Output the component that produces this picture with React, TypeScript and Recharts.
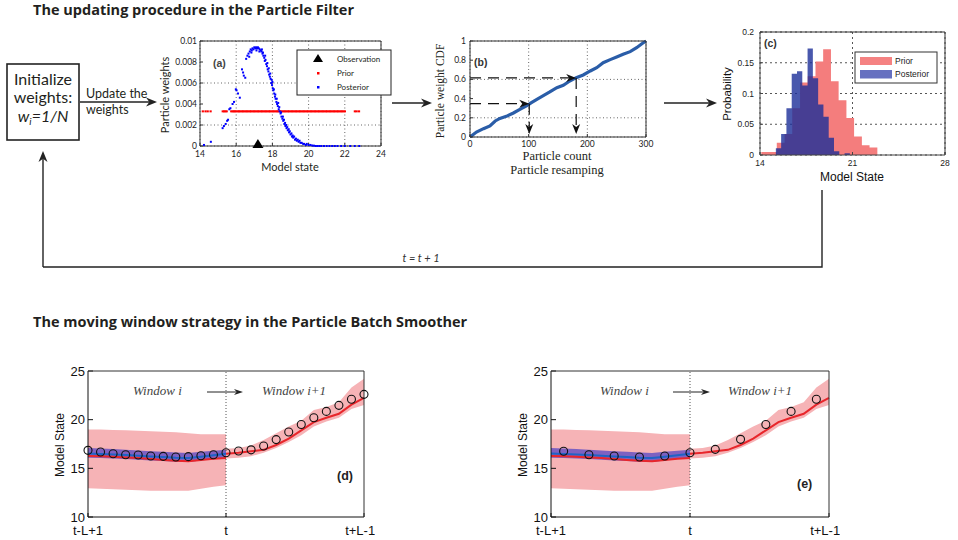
import {
  ScatterChart,
  Scatter,
  LineChart,
  Line,
  ComposedChart,
  Area,
  XAxis,
  YAxis,
  CartesianGrid,
  ReferenceLine,
} from "recharts";

// ---------- fonts ----------
const HUMAN = "Lato, 'Open Sans', sans-serif";
const TITLE = "'Open Sans', Lato, sans-serif";
const ARIAL = "'Liberation Sans', Arial, sans-serif";
const SERIF = "'Liberation Serif', 'Times New Roman', serif";

// ---------- (a) particle weights ----------
const WEIGHT_X_TICKS = [14, 16, 18, 20, 22, 24];
const WEIGHT_Y_TICKS = [0, 0.002, 0.004, 0.006, 0.008, 0.01];
const OBSERVATION = 17.2;
const PRIOR_WEIGHT = 0.0033; // every prior particle has w = 1/N
const PRIOR_X = [
  14.15, 14.3, 14.42, 14.58, 15.25, 15.33, 15.4, 15.47, 15.72, 15.8, 15.86,
  15.93, 16.0, 16.08, 16.15, 16.22, 16.3, 16.37, 16.45, 16.52, 16.6, 16.67,
  16.75, 16.82, 16.9, 16.97, 17.05, 17.12, 17.2, 17.27, 17.35, 17.42, 17.5,
  17.57, 17.65, 17.72, 17.8, 17.87, 17.95, 18.02, 18.1, 18.17, 18.25, 18.32,
  18.4, 18.47, 18.55, 18.62, 18.7, 18.77, 18.85, 18.92, 19.0, 19.07, 19.15,
  19.22, 19.3, 19.37, 19.45, 19.52, 19.6, 19.67, 19.75, 19.82, 19.9, 19.97,
  20.05, 20.12, 20.2, 20.27, 20.35, 20.42, 20.5, 20.57, 20.65, 20.72, 20.8,
  20.87, 20.95, 21.02, 21.1, 21.17, 21.25, 21.32, 21.4, 21.47, 21.55, 21.62,
  21.7, 21.77, 21.85, 21.92, 22.0, 22.55, 22.65, 22.78,
];
const POSTERIOR_PARTICLES: [number, number][] = [
  [14.22, 0.0001], [14.6, 0.0004], [15.25, 0.0017], [15.32, 0.0019],
  [15.42, 0.0021], [15.5, 0.0024], [15.55, 0.0025], [15.62, 0.0035],
  [15.68, 0.0036], [15.8, 0.004], [15.88, 0.0042], [15.98, 0.0054],
  [16.02, 0.0053], [16.1, 0.005], [16.2, 0.0046], [16.32, 0.0073],
  [16.38, 0.007], [16.42, 0.0067], [16.5, 0.0065], [16.55, 0.0083],
  [16.62, 0.0086], [16.68, 0.0088], [16.72, 0.0085], [16.75, 0.009],
  [16.8, 0.0092], [16.84, 0.0089], [16.86, 0.0091], [16.9, 0.0093],
  [16.95, 0.0092], [17.0, 0.0094], [17.05, 0.0093], [17.1, 0.0094],
  [17.12, 0.0091], [17.15, 0.0093], [17.2, 0.0094], [17.25, 0.0093],
  [17.28, 0.009], [17.3, 0.0092], [17.36, 0.0091], [17.4, 0.009],
  [17.42, 0.0092], [17.45, 0.0088], [17.48, 0.0089], [17.5, 0.0086],
  [17.55, 0.0084], [17.58, 0.0081], [17.6, 0.0086], [17.62, 0.0082],
  [17.66, 0.0078], [17.7, 0.0076], [17.72, 0.0079], [17.74, 0.0073],
  [17.78, 0.0071], [17.8, 0.0074], [17.82, 0.0068], [17.86, 0.0066],
  [17.88, 0.0069], [17.9, 0.0064], [17.94, 0.006], [17.96, 0.0063],
  [17.98, 0.0058], [18.0, 0.0061], [18.02, 0.0055], [18.05, 0.0053],
  [18.08, 0.0054], [18.1, 0.005], [18.14, 0.0047], [18.16, 0.0049],
  [18.18, 0.0045], [18.22, 0.0042], [18.24, 0.0045], [18.26, 0.004],
  [18.3, 0.0038], [18.32, 0.0041], [18.35, 0.0035], [18.38, 0.0037],
  [18.4, 0.0033], [18.45, 0.0031], [18.48, 0.0032], [18.5, 0.0028],
  [18.55, 0.0026], [18.58, 0.0028], [18.6, 0.0024], [18.64, 0.0025],
  [18.66, 0.0021], [18.7, 0.0022], [18.72, 0.0019], [18.76, 0.002],
  [18.78, 0.0017], [18.82, 0.0018], [18.85, 0.0015], [18.9, 0.0016],
  [18.92, 0.0013], [18.96, 0.0014], [19.0, 0.0011], [19.05, 0.0012],
  [19.08, 0.0009], [19.12, 0.001], [19.15, 0.0008], [19.2, 0.0009],
  [19.25, 0.0006], [19.3, 0.0007], [19.35, 0.0005], [19.4, 0.0006],
  [19.45, 0.0004], [19.5, 0.0005], [19.55, 0.0003], [19.62, 0.0003],
  [19.7, 0.0002], [19.75, 0.0002], [19.85, 0.0001], [19.9, 0.0002],
  [20.0, 0.0001], [20.1, 0.0001], [20.2, 0.00005], [20.3, 0.00003],
  [20.4, 0], [20.5, 0], [20.6, 0], [20.7, 0], [20.85, 0], [21.0, 0],
  [21.15, 0], [21.3, 0], [21.45, 0], [21.6, 0], [21.8, 0], [22.0, 0],
  [22.3, 0], [22.55, 0], [22.8, 0],
];

// ---------- (b) resampling CDF ----------
const CDF_X_TICKS = [0, 100, 200, 300];
const CDF_Y_TICKS = [0, 0.2, 0.4, 0.6, 0.8, 1];
const PARTICLE_COUNT = [
  0, 11, 23, 34, 43, 51, 62, 74, 85, 97, 104, 114, 125, 136, 148, 159, 170,
  181, 193, 205, 216, 227, 239, 250, 261, 273, 284, 293, 300,
];
const WEIGHT_CDF = [
  0, 0.052, 0.087, 0.115, 0.167, 0.194, 0.215, 0.25, 0.288, 0.326, 0.355,
  0.392, 0.43, 0.469, 0.514, 0.538, 0.583, 0.618, 0.646, 0.688, 0.722, 0.774,
  0.806, 0.833, 0.861, 0.889, 0.93, 0.972, 1.0,
];
const RESAMPLE_COUNT = [101, 181];
const RESAMPLE_CDF = [0.347, 0.615];
const ARROW_FLOOR = 0.03;

// ---------- (c) histograms ----------
const HIST_X_TICKS = [14, 21, 28];
const HIST_Y_TICKS = [0, 0.05, 0.1, 0.15, 0.2];
const PRIOR_EDGES = [
  14.1, 14.69, 15.27, 15.86, 16.44, 17.03, 17.61, 18.2, 18.78, 19.37, 19.95,
  20.54, 21.12, 21.71, 22.29, 22.88,
];
const PRIOR_PROB = [
  0.005, 0.005, 0.02, 0.034, 0.076, 0.118, 0.128, 0.152, 0.172, 0.12, 0.089,
  0.06, 0.03, 0.016, 0.012,
];
const POST_EDGES = [
  15.2, 15.6, 16.0, 16.4, 16.8, 17.2, 17.6, 18.0, 18.4, 18.8, 19.2, 19.6,
  20.0, 20.4, 20.8,
];
const POST_PROB = [
  0.011, 0.034, 0.076, 0.132, 0.136, 0.113, 0.173, 0.125, 0.082, 0.062,
  0.028, 0.006, 0, 0.003,
];

// ---------- (d)/(e) moving window ----------
const STEPS = [0, 1, 2, 3, 4, 5, 6, 7, 8, 9, 10, 11, 12, 13, 14, 15, 16, 17, 18, 19, 20, 21, 22];
const SPLIT = 11;
const TIME_TICKS = [0, 11, 22];
const TIME_LABELS = ["t-L+1", "t", "t+L-1"];
const STATE_TICKS = [10, 15, 20, 25];
// window i (steps 0..11)
const PF_LO_L = [12.95, 12.9, 12.85, 12.8, 12.75, 12.7, 12.7, 12.7, 12.7, 12.9, 13.1, 13.25];
const PF_HI_L = [19.0, 19.0, 18.95, 18.9, 18.85, 18.8, 18.75, 18.7, 18.6, 18.5, 18.5, 18.5];
const PF_MEAN_L = [16.27, 16.24, 16.2, 16.12, 16.05, 15.95, 15.85, 15.77, 15.72, 15.85, 15.98, 16.06];
const PBS_LO = [16.1, 16.05, 16.0, 15.95, 15.88, 15.8, 15.75, 15.68, 15.65, 15.8, 15.95, 16.12];
const PBS_HI = [17.1, 17.05, 16.98, 16.9, 16.82, 16.75, 16.7, 16.62, 16.58, 16.7, 16.8, 16.92];
const PBS_MEAN = [16.52, 16.48, 16.42, 16.36, 16.3, 16.22, 16.16, 16.08, 16.06, 16.2, 16.35, 16.5];
// window i+1 (steps 11..22)
const PF_LO_R = [16.0, 16.1, 16.25, 16.6, 17.1, 17.7, 18.4, 19.3, 19.8, 20.2, 21.1, 21.5];
const PF_HI_R = [17.0, 17.1, 17.35, 17.9, 18.6, 19.3, 19.9, 21.0, 21.3, 21.8, 23.3, 24.2];
const PF_MEAN_R = [16.5, 16.6, 16.75, 16.9, 17.4, 18.05, 18.9, 19.75, 20.2, 20.6, 21.55, 22.25];
// observations
const OBS_D = [
  16.85, 16.68, 16.5, 16.4, 16.37, 16.27, 16.23, 16.16, 16.2, 16.3, 16.4, 16.6,
  16.78, 16.9, 17.3, 17.95, 18.73, 19.5, 20.2, 20.85, 21.47, 22.1, 22.6,
];
const OBS_E_STEPS = [1, 3, 5, 7, 9, 11, 13, 15, 17, 19, 21];
const OBS_E = [16.75, 16.4, 16.27, 16.16, 16.27, 16.6, 16.95, 17.98, 19.5, 20.85, 22.1];

// ---------- helpers ----------
function Arrow({ x1, y1, x2, y2, w = 1.4, head = 11, half = 4.5, color = "#222" }: any) {
  const a = Math.atan2(y2 - y1, x2 - x1);
  const c = Math.cos(a);
  const s = Math.sin(a);
  const bx = x2 - head * c;
  const by = y2 - head * s;
  const ix = x2 - head * 0.7 * c;
  const iy = y2 - head * 0.7 * s;
  return (
    <g>
      <line x1={x1} y1={y1} x2={ix} y2={iy} stroke={color} strokeWidth={w} />
      <path
        d={`M${x2},${y2}L${bx - half * s},${by + half * c}L${ix},${iy}L${bx + half * s},${by - half * c}Z`}
        fill={color}
      />
    </g>
  );
}

function DashedArrow(props: any) {
  const { x1, y1, x2, y2 } = props;
  if ([x1, y1, x2, y2].some((v) => v == null || isNaN(v))) return null;
  const a = Math.atan2(y2 - y1, x2 - x1);
  const c = Math.cos(a);
  const s = Math.sin(a);
  const head = 10;
  const half = 4;
  const bx = x2 - head * c;
  const by = y2 - head * s;
  const ix = x2 - head * 0.7 * c;
  const iy = y2 - head * 0.7 * s;
  return (
    <g>
      <line x1={x1} y1={y1} x2={ix} y2={iy} stroke="#111" strokeWidth={1.2} strokeDasharray="11 7" />
      <path
        d={`M${x2},${y2}L${bx - half * s},${by + half * c}L${ix},${iy}L${bx + half * s},${by - half * c}Z`}
        fill="#111"
      />
    </g>
  );
}

function frameAxes(domainX: number[], ticksX: number[], domainY: number[], ticksY: number[], size: number) {
  return [
    <XAxis
      key="top"
      xAxisId="top"
      orientation="top"
      type="number"
      domain={domainX}
      ticks={ticksX}
      allowDataOverflow
      height={1}
      tick={false}
      tickSize={-size}
      stroke="#333"
    />,
    <YAxis
      key="right"
      yAxisId="right"
      orientation="right"
      type="number"
      domain={domainY}
      ticks={ticksY}
      allowDataOverflow
      width={1}
      tick={false}
      tickSize={-size}
      stroke="#333"
    />,
  ];
}

const HUMAN_TICK = { fontFamily: HUMAN, fontSize: 8.5, fill: "#222" };
const ARIAL_TICK = { fontFamily: ARIAL, fontSize: 8.5, fill: "#222" };
const BIG_TICK = { fontFamily: ARIAL, fontSize: 13, fill: "#111" };

// ---------- panels ----------
function PanelA() {
  const prior = PRIOR_X.map((x) => ({ x, y: PRIOR_WEIGHT }));
  const posterior = POSTERIOR_PARTICLES.map(([x, y]) => ({ x, y }));
  const obs = [{ x: OBSERVATION, y: 0 }];
  return (
    <div style={{ position: "absolute", left: 150, top: 30 }}>
      <ScatterChart width={250} height={150} margin={{ top: 10, right: 18, bottom: 14, left: 10 }}>
        <CartesianGrid stroke="#666" strokeDasharray="1 2.5" />
        <XAxis
          type="number"
          dataKey="x"
          domain={[14, 24]}
          ticks={WEIGHT_X_TICKS}
          height={20}
          tickSize={-3}
          tickMargin={8}
          tick={HUMAN_TICK}
          stroke="#333"
        />
        <YAxis
          type="number"
          dataKey="y"
          domain={[0, 0.01]}
          ticks={WEIGHT_Y_TICKS}
          width={40}
          tickSize={-3}
          tickMargin={6}
          tick={HUMAN_TICK}
          stroke="#333"
        />
        {frameAxes([14, 24], WEIGHT_X_TICKS, [0, 0.01], WEIGHT_Y_TICKS, 3)}
        <Scatter
          data={prior}
          isAnimationActive={false}
          shape={(p: any) => <rect x={p.cx - 1} y={p.cy - 1} width={2.2} height={2} fill="#ff0000" />}
        />
        <Scatter
          data={posterior}
          isAnimationActive={false}
          shape={(p: any) => <rect x={p.cx - 1} y={p.cy - 1} width={2} height={2} fill="#0000ff" />}
        />
        <Scatter
          data={obs}
          isAnimationActive={false}
          shape={(p: any) => (
            <path d={`M${p.cx},${p.cy - 7}L${p.cx + 5.5},${p.cy + 2}L${p.cx - 5.5},${p.cy + 2}Z`} fill="#000" />
          )}
        />
      </ScatterChart>
    </div>
  );
}

function PanelB() {
  const rows = PARTICLE_COUNT.map((n, i) => ({ n, cdf: WEIGHT_CDF[i] }));
  return (
    <div style={{ position: "absolute", left: 420, top: 30 }}>
      <LineChart width={240} height={130} data={rows} margin={{ top: 10, right: 13, bottom: 8, left: 15 }}>
        <CartesianGrid stroke="#666" strokeDasharray="1 2.5" />
        <XAxis
          type="number"
          dataKey="n"
          domain={[0, 300]}
          ticks={CDF_X_TICKS}
          height={15}
          tickSize={-3}
          tickMargin={7}
          tick={HUMAN_TICK}
          stroke="#333"
        />
        <YAxis
          type="number"
          domain={[0, 1]}
          ticks={CDF_Y_TICKS}
          width={35}
          tickSize={-3}
          tickMargin={7}
          tick={HUMAN_TICK}
          stroke="#333"
        />
        {frameAxes([0, 300], CDF_X_TICKS, [0, 1], CDF_Y_TICKS, 3)}
        <Line
          type="linear"
          dataKey="cdf"
          stroke="#2a5da8"
          strokeWidth={3.2}
          dot={false}
          isAnimationActive={false}
        />
        {RESAMPLE_COUNT.map((n, i) => (
          <ReferenceLine
            key={`h${i}`}
            segment={[
              { x: 0, y: RESAMPLE_CDF[i] },
              { x: n, y: RESAMPLE_CDF[i] },
            ]}
            shape={(p: any) => <DashedArrow {...p} />}
          />
        ))}
        {RESAMPLE_COUNT.map((n, i) => (
          <ReferenceLine
            key={`v${i}`}
            segment={[
              { x: n, y: RESAMPLE_CDF[i] },
              { x: n, y: ARROW_FLOOR },
            ]}
            shape={(p: any) => <DashedArrow {...p} />}
          />
        ))}
      </LineChart>
    </div>
  );
}

function binValue(edges: number[], probs: number[], x: number) {
  for (let i = 0; i < probs.length; i++) {
    if (x >= edges[i] && x < edges[i + 1]) return probs[i];
  }
  return 0;
}

function PanelC() {
  const xs = Array.from(new Set([...PRIOR_EDGES, ...POST_EDGES])).sort((a, b) => a - b);
  const rows = xs.map((x) => ({
    x,
    prior: binValue(PRIOR_EDGES, PRIOR_PROB, x),
    posterior: binValue(POST_EDGES, POST_PROB, x),
  }));
  return (
    <div style={{ position: "absolute", left: 715, top: 20 }}>
      <ComposedChart width={240} height={150} data={rows} margin={{ top: 11, right: 9, bottom: 0, left: 10 }}>
        <XAxis
          type="number"
          dataKey="x"
          domain={[14, 28]}
          ticks={HIST_X_TICKS}
          height={15}
          tickSize={-3}
          tickMargin={8}
          tick={ARIAL_TICK}
          stroke="#444"
        />
        <YAxis
          type="number"
          domain={[0, 0.2]}
          ticks={HIST_Y_TICKS}
          width={35}
          tickSize={-3}
          tickMargin={9}
          tick={ARIAL_TICK}
          stroke="#444"
        />
        {frameAxes([14, 28], HIST_X_TICKS, [0, 0.2], HIST_Y_TICKS, 3)}
        <Area
          type="stepAfter"
          dataKey="prior"
          stroke="none"
          fill="#f47d7d"
          fillOpacity={1}
          isAnimationActive={false}
        />
        <Area
          type="stepAfter"
          dataKey="posterior"
          stroke="none"
          fill="#1b2e99"
          fillOpacity={0.8}
          isAnimationActive={false}
        />
        <CartesianGrid stroke="#555" strokeDasharray="2 3" fill="none" />
      </ComposedChart>
    </div>
  );
}

function WindowPanel({ left, marginLeft, obsSteps, obsValues }: any) {
  const rows = STEPS.map((s, i) => {
    const r = i - SPLIT;
    const k = obsSteps.indexOf(s);
    return {
      s,
      pfBandL: i <= SPLIT ? [PF_LO_L[i], PF_HI_L[i]] : undefined,
      pfMeanL: i <= SPLIT ? PF_MEAN_L[i] : undefined,
      pbsBand: i <= SPLIT ? [PBS_LO[i], PBS_HI[i]] : undefined,
      pbsMean: i <= SPLIT ? PBS_MEAN[i] : undefined,
      pfBandR: r >= 0 ? [PF_LO_R[r], PF_HI_R[r]] : undefined,
      pfMeanR: r >= 0 ? PF_MEAN_R[r] : undefined,
      obs: k >= 0 ? obsValues[k] : undefined,
    };
  });
  return (
    <div style={{ position: "absolute", left, top: 360 }}>
      <ComposedChart width={335} height={180} data={rows} margin={{ top: 10, right: 10, bottom: 3, left: marginLeft }}>
        <XAxis
          type="number"
          dataKey="s"
          domain={[0, 22]}
          ticks={TIME_TICKS}
          tickFormatter={(v: number) => TIME_LABELS[TIME_TICKS.indexOf(v)]}
          height={20}
          tickSize={-4}
          tickMargin={13}
          tick={BIG_TICK}
          stroke="#111"
        />
        <YAxis
          type="number"
          domain={[10, 25]}
          ticks={STATE_TICKS}
          width={30}
          tickSize={-5}
          tickMargin={8}
          tick={BIG_TICK}
          stroke="#111"
        />
        {frameAxes([0, 22], TIME_TICKS, [10, 25], STATE_TICKS, 5)}
        <Area type="linear" dataKey="pfBandL" stroke="none" fill="#f6b3b6" fillOpacity={1} isAnimationActive={false} />
        <Area type="linear" dataKey="pfBandR" stroke="none" fill="#f6b3b6" fillOpacity={1} isAnimationActive={false} />
        <Area type="linear" dataKey="pbsBand" stroke="none" fill="#5546c4" fillOpacity={0.75} isAnimationActive={false} />
        <ReferenceLine x={SPLIT} stroke="#555" strokeDasharray="1 2" />
        <Line type="linear" dataKey="pbsMean" stroke="#1f63c6" strokeWidth={2} dot={false} isAnimationActive={false} />
        <Line type="linear" dataKey="pfMeanL" stroke="#e8262b" strokeWidth={2} dot={false} isAnimationActive={false} />
        <Line type="linear" dataKey="pfMeanR" stroke="#e8262b" strokeWidth={2} dot={false} isAnimationActive={false} />
        <Line
          type="linear"
          dataKey="obs"
          stroke="none"
          dot={{ r: 4, stroke: "#111", strokeWidth: 1.1, fill: "none" }}
          isAnimationActive={false}
        />
      </ComposedChart>
    </div>
  );
}

export default function App() {
  return (
    <div
      style={{
        position: "absolute",
        left: 0,
        top: 0,
        width: 958,
        height: 540,
        background: "#fff",
        overflow: "hidden",
      }}
    >
      <PanelA />
      <PanelB />
      <PanelC />
      <WindowPanel left={40} marginLeft={18} obsSteps={STEPS} obsValues={OBS_D} />
      <WindowPanel left={505} marginLeft={16} obsSteps={OBS_E_STEPS} obsValues={OBS_E} />

      <svg
        width={958}
        height={540}
        style={{ position: "absolute", left: 0, top: 0, pointerEvents: "none" }}
      >
        {/* titles */}
        <text x={33} y={15} fontFamily={TITLE} fontWeight={700} fontSize={14.5} fill="#231f20">
          The updating procedure in the Particle Filter
        </text>
        <text x={33} y={327} fontFamily={TITLE} fontWeight={700} fontSize={14.5} fill="#231f20">
          The moving window strategy in the Particle Batch Smoother
        </text>

        {/* initialisation box */}
        <rect x={7} y={64} width={72} height={76} fill="#fff" stroke="#222" strokeWidth={1.6} />
        <g fontFamily={HUMAN} fontSize={16} fill="#231f20" textAnchor="middle">
          <text x={43} y={85}>Initialize</text>
          <text x={43} y={103}>weights:</text>
          <text x={43} y={122} fontStyle="italic">
            w<tspan fontSize={10} dy={3}>i</tspan>
            <tspan dy={-3}>=1/N</tspan>
          </text>
        </g>

        {/* update arrow */}
        <text x={86} y={98} fontFamily={HUMAN} fontSize={12.5} fill="#231f20">
          Update the
        </text>
        <text x={86} y={114} fontFamily={HUMAN} fontSize={12.5} fill="#231f20">
          weights
        </text>
        <Arrow x1={80} y1={102} x2={157} y2={102} />
        <Arrow x1={392} y1={103} x2={432} y2={103} />
        <Arrow x1={664} y1={103} x2={717} y2={103} />

        {/* feedback loop */}
        <Arrow x1={43} y1={267} x2={43} y2={151} />
        <polyline points="43,267 822,267 822,190" fill="none" stroke="#222" strokeWidth={1.4} />
        <text x={421} y={262} textAnchor="middle" fontFamily={HUMAN} fontStyle="italic" fontSize={11} fill="#333">
          t = t + 1
        </text>

        {/* (a) labels & legend */}
        <text x={213} y={67} fontFamily={ARIAL} fontWeight={700} fontSize={10.5} fill="#444">
          (a)
        </text>
        <text
          transform="translate(169,95) rotate(-90)"
          textAnchor="middle"
          fontFamily={HUMAN}
          fontSize={11}
          fill="#231f20"
        >
          Particle weights
        </text>
        <text x={290} y={171} textAnchor="middle" fontFamily={HUMAN} fontSize={11} fill="#231f20">
          Model state
        </text>
        <rect x={297} y={50} width={94} height={45} fill="#fff" stroke="#222" strokeWidth={1} />
        <path d="M318,54L323,62L313,62Z" fill="#000" />
        <rect x={317} y={72} width={2.5} height={2.5} fill="#ff0000" />
        <rect x={317} y={86} width={2.5} height={2.5} fill="#0000ff" />
        <g fontFamily={HUMAN} fontSize={8} fill="#231f20">
          <text x={337} y={62}>Observation</text>
          <text x={337} y={76}>Prior</text>
          <text x={337} y={89.5}>Posterior</text>
        </g>

        {/* (b) labels */}
        <text x={474} y={66} fontFamily={ARIAL} fontWeight={700} fontSize={10.5} fill="#333">
          (b)
        </text>
        <text
          transform="translate(444,91) rotate(-90)"
          textAnchor="middle"
          fontFamily={SERIF}
          fontSize={11.5}
          fill="#231f20"
        >
          Particle weight CDF
        </text>
        <text x={557} y={160} textAnchor="middle" fontFamily={SERIF} fontSize={12.5} fill="#231f20">
          Particle count
        </text>
        <text x={557} y={174} textAnchor="middle" fontFamily={SERIF} fontSize={12.5} fill="#231f20">
          Particle resamping
        </text>

        {/* (c) labels & legend */}
        <text x={764} y={47} fontFamily={ARIAL} fontWeight={700} fontSize={10.5} fill="#333">
          (c)
        </text>
        <text
          transform="translate(731,94) rotate(-90)"
          textAnchor="middle"
          fontFamily={ARIAL}
          fontSize={11.5}
          fill="#111"
        >
          Probability
        </text>
        <text x={852} y={181} textAnchor="middle" fontFamily={ARIAL} fontSize={12} fill="#111">
          Model State
        </text>
        <rect x={855} y={52} width={82} height={31} fill="#fff" stroke="#333" strokeWidth={1} />
        <rect x={860} y={57} width={32} height={8} fill="#f58282" />
        <rect x={860} y={70} width={32} height={8.5} fill="#6670c0" />
        <g fontFamily={ARIAL} fontSize={8.5} fill="#222">
          <text x={895} y={64}>Prior</text>
          <text x={895} y={77}>Posterior</text>
        </g>

        {/* (d) labels */}
        <text
          transform="translate(64,445) rotate(-90)"
          textAnchor="middle"
          fontFamily={ARIAL}
          fontSize={12}
          fill="#111"
        >
          Model State
        </text>
        <g fontFamily={SERIF} fontStyle="italic" fontSize={13} fill="#444">
          <text x={133} y={395}>Window i</text>
          <text x={262} y={395}>Window i+1</text>
          <text x={600} y={395}>Window i</text>
          <text x={728} y={395}>Window i+1</text>
        </g>
        <Arrow x1={207} y1={392} x2={243} y2={392} w={1} head={9} half={3} />
        <Arrow x1={673} y1={392} x2={710} y2={392} w={1} head={9} half={3} />
        <text x={337} y={480} fontFamily={ARIAL} fontWeight={700} fontSize={12.5} fill="#222">
          (d)
        </text>

        {/* (e) labels */}
        <text
          transform="translate(527,445) rotate(-90)"
          textAnchor="middle"
          fontFamily={ARIAL}
          fontSize={12}
          fill="#111"
        >
          Model State
        </text>
        <text x={797} y={488} fontFamily={ARIAL} fontWeight={700} fontSize={12.5} fill="#222">
          (e)
        </text>
      </svg>
    </div>
  );
}
